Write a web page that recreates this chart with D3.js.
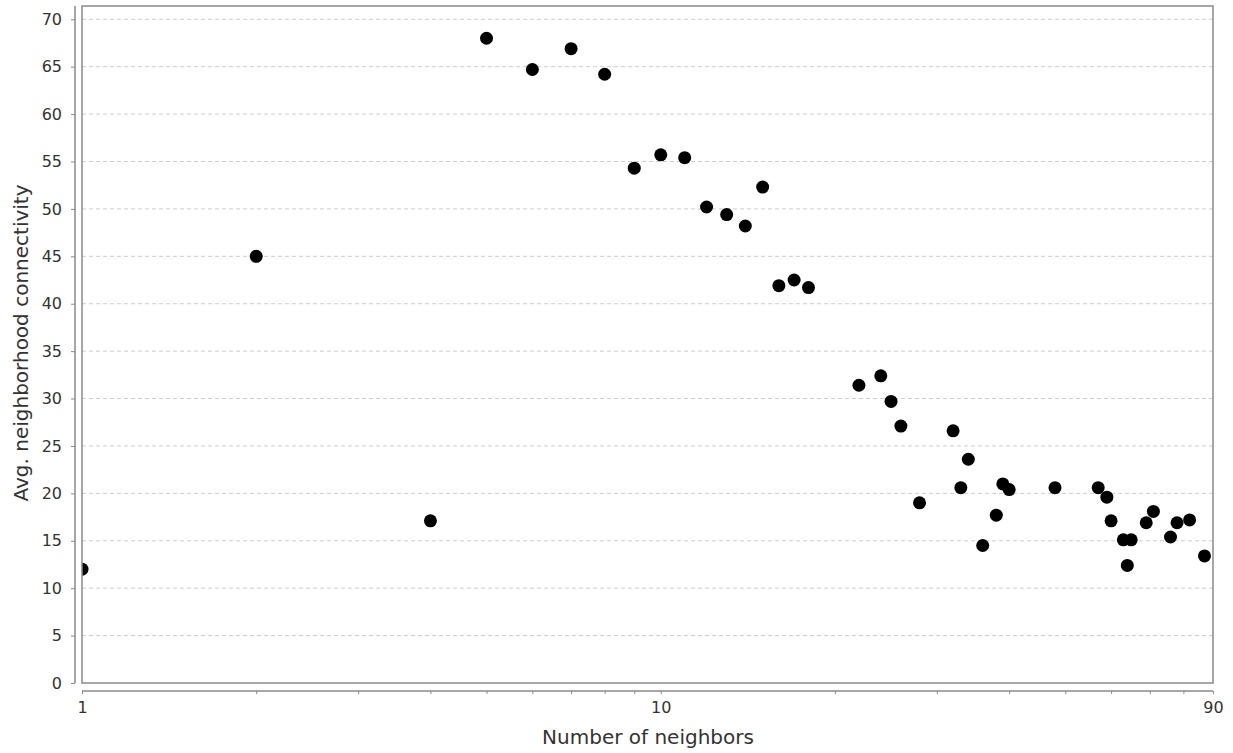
<!DOCTYPE html>
<html>
<head>
  <meta charset="utf-8">
  <title>Avg. neighborhood connectivity</title>
  <script src="https://d3js.org/d3.v7.min.js"></script>
  <style>
    html, body { margin: 0; background: #fff; }
    svg { display: block; }
    text { font-family: "DejaVu Sans", sans-serif; fill: #333; }
  </style>
</head>
<body>
<svg id="chart" width="1233" height="753"></svg>
<script>
  // number of neighbors (x) and avg. neighborhood connectivity (y)
  const neighbors = [1, 2, 4, 5, 6, 7, 8, 9, 10, 11, 12, 13, 14, 15, 16, 17, 18,
    22, 24, 25, 26, 28, 32, 33, 34, 36, 38, 39, 40, 48,
    57, 59, 60, 63, 64, 65, 69, 71, 76, 78, 82, 87];
  const connectivity = [12.0, 45.0, 17.1, 68.0, 64.7, 66.9, 64.2, 54.3, 55.7, 55.4, 50.2, 49.4, 48.2, 52.3, 41.9, 42.5, 41.7,
    31.4, 32.4, 29.7, 27.1, 19.0, 26.6, 20.6, 23.6, 14.5, 17.7, 21.0, 20.4, 20.6,
    20.6, 19.6, 17.1, 15.1, 12.4, 15.1, 16.9, 18.1, 15.4, 16.9, 17.2, 13.4];
  const yTicks = d3.range(0, 71, 5);
  const xLabels = [1, 10, 90];
  const xMinor = [2, 3, 4, 5, 6, 7, 8, 9, 20, 30, 40, 50, 60, 70, 80];

  const svg = d3.select("#chart");
  const m = { left: 82, right: 1213, top: 6, bottom: 683 };

  const x = d3.scaleLog().domain([1, 90]).range([m.left, m.right]);
  const y = d3.scaleLinear().domain([0, 71.4]).range([m.bottom, m.top]);

  // points are clipped to the plot box (the dot at x=1 shows only half)
  svg.append("defs").append("clipPath").attr("id", "plot-clip")
    .append("rect")
    .attr("x", m.left).attr("y", m.top)
    .attr("width", m.right - m.left).attr("height", m.bottom - m.top);

  // grid
  svg.append("g")
    .selectAll("line")
    .data(yTicks.filter(d => d > 0))
    .join("line")
    .attr("x1", m.left).attr("x2", m.right)
    .attr("y1", d => y(d)).attr("y2", d => y(d))
    .attr("stroke", "#cdcdcd")
    .attr("stroke-dasharray", "4,3");

  // points
  svg.append("g")
    .attr("clip-path", "url(#plot-clip)")
    .selectAll("circle")
    .data(neighbors.map((n, i) => [n, connectivity[i]]))
    .join("circle")
    .attr("cx", d => x(d[0]))
    .attr("cy", d => y(d[1]))
    .attr("r", 6.5)
    .attr("fill", "#000");

  // plot box
  svg.append("rect")
    .attr("x", m.left).attr("y", m.top)
    .attr("width", m.right - m.left).attr("height", m.bottom - m.top)
    .attr("fill", "none")
    .attr("stroke", "#8a8a8a")
    .attr("stroke-width", 1.5);

  // y axis, offset from box
  const yAxis = svg.append("g")
    .attr("transform", "translate(75,0)")
    .call(d3.axisLeft(y).tickValues(yTicks).tickSize(4).tickPadding(9));
  yAxis.select(".domain").attr("stroke", "#8a8a8a").attr("stroke-width", 1.5)
    .attr("d", `M0,${m.top}V${m.bottom}`);
  yAxis.selectAll(".tick line").attr("stroke", "#8a8a8a");
  yAxis.selectAll("text").style("font-size", "16px").attr("fill", "#333");

  // x axis, offset from box
  const xAxis = svg.append("g")
    .attr("transform", "translate(0,691)")
    .call(d3.axisBottom(x).tickValues(xLabels.concat(xMinor)).tickSize(3).tickPadding(8)
      .tickFormat(d => xLabels.includes(d) ? d : ""));
  xAxis.select(".domain").attr("stroke", "#8a8a8a").attr("stroke-width", 1.5)
    .attr("d", `M${m.left},0H${m.right}`);
  xAxis.selectAll(".tick line").attr("stroke", "#8a8a8a");
  xAxis.selectAll("text").style("font-size", "16px").attr("fill", "#333");

  // axis titles
  svg.append("text")
    .attr("x", 648)
    .attr("y", 744)
    .attr("text-anchor", "middle")
    .style("font-size", "20px")
    .text("Number of neighbors");

  svg.append("text")
    .attr("transform", "translate(28,343) rotate(-90)")
    .attr("text-anchor", "middle")
    .style("font-size", "20px")
    .text("Avg. neighborhood connectivity");
</script>
</body>
</html>
